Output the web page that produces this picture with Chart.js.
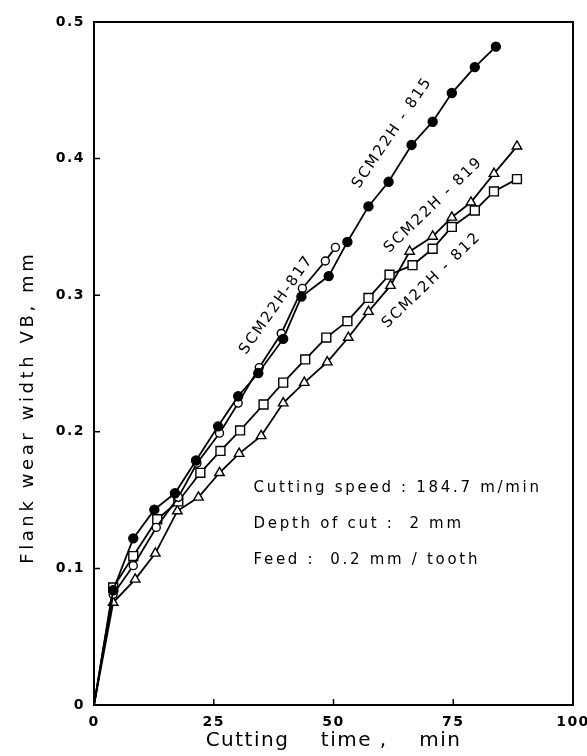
<!DOCTYPE html>
<html lang="en">
<head>
<meta charset="UTF-8" />
<title>Flank wear vs cutting time</title>
<style>
  html, body { margin: 0; padding: 0; background: #fff; }
  #chart { display: block; }
</style>
<script src="https://cdn.jsdelivr.net/npm/chart.js"></script>
</head>
<body>
<canvas id="chart" width="587" height="756"></canvas>
<script>
// tick values / labels
const xTicks = [0, 25, 50, 75, 100];
const xTickLabels = ["0", "25", "50", "75", "100"];
const yTicks = [0, 0.1, 0.2, 0.3, 0.4, 0.5];
const yTickLabels = ["0", "0.1", "0.2", "0.3", "0.4", "0.5"];

// SCM22H-815 (filled circles)
const time815 = [0, 4.0, 8.2, 12.6, 16.9, 21.3, 25.9, 30.1, 34.3, 39.5, 43.3, 49.0, 52.9, 57.3, 61.5, 66.3, 70.7, 74.7, 79.5, 83.9];
const wear815 = [0, 0.084, 0.122, 0.143, 0.155, 0.179, 0.204, 0.226, 0.243, 0.268, 0.299, 0.314, 0.339, 0.365, 0.383, 0.410, 0.427, 0.448, 0.467, 0.482];

// SCM22H-817 (open circles)
const time817 = [0, 4.0, 8.2, 13.0, 17.6, 21.5, 26.2, 30.1, 34.5, 39.1, 43.5, 48.3, 50.4];
const wear817 = [0, 0.081, 0.102, 0.130, 0.152, 0.177, 0.199, 0.221, 0.247, 0.272, 0.305, 0.325, 0.335];

// SCM22H-812 (open squares)
const time812 = [0, 4.0, 8.2, 13.2, 17.6, 22.2, 26.4, 30.5, 35.4, 39.5, 44.1, 48.5, 52.9, 57.3, 61.7, 66.5, 70.7, 74.7, 79.5, 83.5, 88.3];
const wear812 = [0, 0.086, 0.109, 0.136, 0.149, 0.170, 0.186, 0.201, 0.220, 0.236, 0.253, 0.269, 0.281, 0.298, 0.315, 0.322, 0.334, 0.350, 0.362, 0.376, 0.385];

// SCM22H-819 (open triangles)
const time819 = [0, 4.0, 8.6, 12.8, 17.4, 21.8, 26.2, 30.3, 34.9, 39.5, 43.9, 48.7, 53.1, 57.3, 61.9, 65.9, 70.7, 74.7, 78.7, 83.5, 88.3];
const wear819 = [0, 0.075, 0.092, 0.111, 0.142, 0.152, 0.170, 0.184, 0.197, 0.221, 0.236, 0.251, 0.269, 0.288, 0.307, 0.332, 0.343, 0.357, 0.368, 0.389, 0.409];

const curveNames = ["SCM22H-817", "SCM22H - 815", "SCM22H - 819", "SCM22H - 812"];
const conditionLines = ["Cutting speed : 184.7 m/min", "Depth of cut :  2 mm", "Feed :  0.2 mm / tooth"];
const xTitle = "Cutting    time ,    min";
const yTitle = "Flank wear width VB, mm";

const FONT = "'DejaVu Sans', sans-serif";

// build one scatter+line dataset, no marker on the origin point
function series(label, xs, ys, style, radius, fill) {
  return {
    label,
    data: xs.map((x, i) => ({ x, y: ys[i] })),
    showLine: true,
    borderColor: "#000",
    borderWidth: 1.8,
    pointStyle: style,
    pointRadius: xs.map((x) => (x === 0 ? 0 : radius)),
    pointBackgroundColor: fill,
    pointBorderColor: "#000",
    pointBorderWidth: 1.4,
  };
}

// frame, inward ticks, y title and the text notes
const decorPlugin = {
  id: "decor",
  beforeDraw(chart) {
    chart.ctx.letterSpacing = "1.5px";
  },
  beforeDatasetsDraw(chart) {
    const { ctx, chartArea: a, scales } = chart;
    ctx.save();
    ctx.strokeStyle = "#000";
    ctx.lineWidth = 2;
    ctx.strokeRect(a.left, a.top, a.width, a.height);
    ctx.lineWidth = 1.5;
    ctx.beginPath();
    xTicks.slice(1, -1).forEach((v) => {
      const px = scales.x.getPixelForValue(v);
      ctx.moveTo(px, a.bottom);
      ctx.lineTo(px, a.bottom - 6);
    });
    yTicks.slice(1, -1).forEach((v) => {
      const py = scales.y.getPixelForValue(v);
      ctx.moveTo(a.left, py);
      ctx.lineTo(a.left + 6, py);
    });
    ctx.stroke();
    ctx.restore();
  },
  afterDatasetsDraw(chart, args, opts) {
    const { ctx, scales } = chart;
    ctx.save();
    ctx.fillStyle = "#000";
    ctx.textBaseline = "middle";

    // y axis title, a little below the middle as in the original
    ctx.save();
    ctx.font = "18px " + FONT;
    ctx.letterSpacing = "3.6px";
    ctx.textAlign = "center";
    ctx.translate(28, scales.y.getPixelForValue(opts.yTitleAt));
    ctx.rotate(-Math.PI / 2);
    ctx.fillText(yTitle, 0, 0);
    ctx.restore();

    ctx.font = "15px " + FONT;
    ctx.letterSpacing = "2px";
    ctx.textAlign = "center";
    opts.names.forEach((n, i) => {
      ctx.save();
      ctx.translate(scales.x.getPixelForValue(n.x), scales.y.getPixelForValue(n.y));
      ctx.rotate((-n.angle * Math.PI) / 180);
      ctx.fillText(curveNames[i], 0, 0);
      ctx.restore();
    });
    ctx.textAlign = "left";
    ctx.letterSpacing = "2.7px";
    opts.notes.forEach((n, i) => {
      ctx.fillText(conditionLines[i], scales.x.getPixelForValue(n.x), scales.y.getPixelForValue(n.y));
    });
    ctx.restore();
  },
};

const ctx = document.getElementById("chart");

new Chart(ctx, {
  type: "scatter",
  data: {
    datasets: [
      series("SCM22H-815", time815, wear815, "circle", 4.5, "#000"),
      series("SCM22H-817", time817, wear817, "circle", 4, "#fff"),
      series("SCM22H-812", time812, wear812, "rect", 6.3, "#fff"),
      series("SCM22H-819", time819, wear819, "triangle", 5.5, "#fff"),
    ],
  },
  options: {
    responsive: false,
    animation: false,
    layout: { padding: { top: 22, right: 14, left: 0, bottom: 0 } },
    scales: {
      x: {
        type: "linear",
        min: 0,
        max: 100,
        afterBuildTicks: (s) => { s.ticks = xTicks.map((v) => ({ value: v })); },
        afterFit: (s) => { s.height = 51; s.paddingRight = 0; s.paddingLeft = 0; },
        grid: { display: false, drawTicks: false },
        border: { display: false },
        ticks: {
          padding: 9,
          color: "#000",
          font: { family: FONT, size: 14, weight: "bold" },
          maxRotation: 0,
          callback: (v, i) => xTickLabels[i],
        },
        title: {
          display: true,
          text: xTitle,
          color: "#000",
          font: { family: FONT, size: 20 },
          padding: { top: 0, bottom: 3 },
        },
      },
      y: {
        type: "linear",
        min: 0,
        max: 0.5,
        afterBuildTicks: (s) => { s.ticks = yTicks.map((v) => ({ value: v })); },
        afterFit: (s) => { s.width = 94; },
        grid: { display: false, drawTicks: false },
        border: { display: false },
        ticks: {
          padding: 9,
          color: "#000",
          font: { family: FONT, size: 14, weight: "bold" },
          callback: (v, i) => yTickLabels[i],
        },
        title: { display: false },
      },
    },
    plugins: {
      legend: { display: false },
      tooltip: { enabled: false },
      decor: {
        yTitleAt: 0.218,
        names: [
          { x: 38.1, y: 0.293, angle: 55 },
          { x: 62.3, y: 0.419, angle: 56 },
          { x: 70.9, y: 0.366, angle: 44 },
          { x: 70.5, y: 0.311, angle: 44 },
        ],
        notes: [
          { x: 33.3, y: 0.159 },
          { x: 33.3, y: 0.1325 },
          { x: 33.3, y: 0.106 },
        ],
      },
    },
  },
  plugins: [decorPlugin],
});
</script>
</body>
</html>
